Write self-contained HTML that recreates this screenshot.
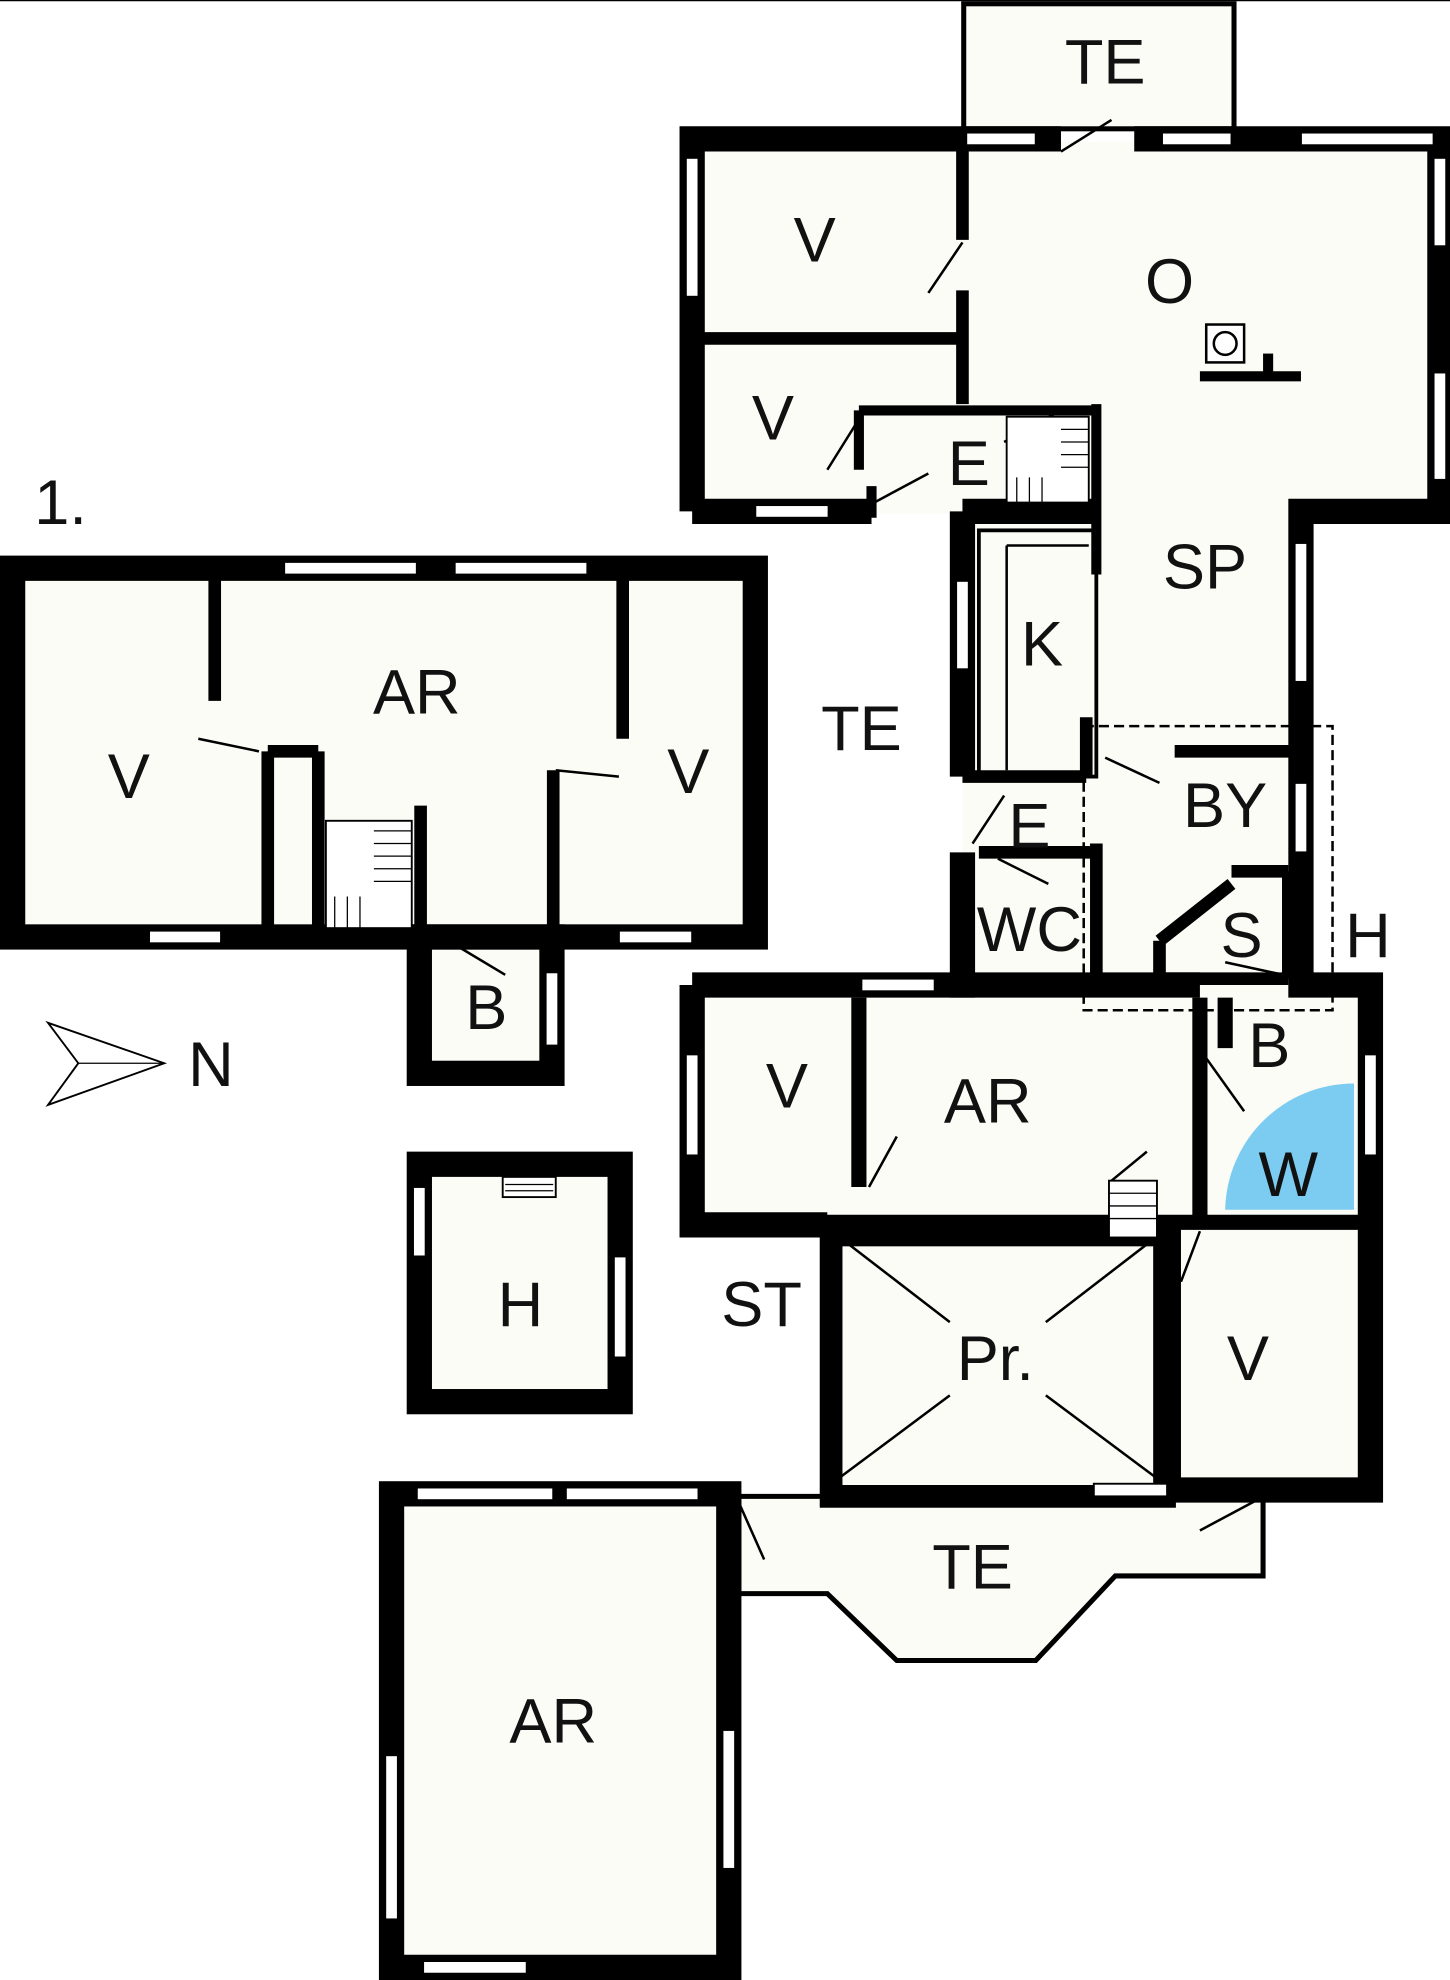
<!DOCTYPE html>
<html><head><meta charset="utf-8"><style>html,body{margin:0;padding:0;background:#fff}svg{display:block}text{font-family:"Liberation Sans",sans-serif;fill:#111}</style></head><body>
<svg width="1450" height="1980" viewBox="0 0 1148 1568" preserveAspectRatio="none" xmlns="http://www.w3.org/2000/svg">
<rect width="1148" height="1568" fill="#fff"/>
<line x1="0" y1="0.5" x2="1148" y2="0.5" stroke="#000" stroke-width="1"/>
<g fill="#fcfcf7">
<rect x="10" y="450" width="588" height="292"/>
<rect x="332" y="742" width="105" height="108"/>
<rect x="550" y="112" width="590" height="295"/>
<rect x="762" y="400" width="268" height="390"/>
<rect x="550" y="790" width="535" height="178"/>
<rect x="658" y="968" width="427" height="212"/>
<rect x="332" y="922" width="159" height="188"/>
<rect x="310" y="1183" width="267" height="375"/>
<rect x="763" y="3" width="214" height="99"/>
<polygon points="585,1185 1000,1185 1000,1248 883,1248 820,1315 710,1315 655,1262 585,1262"/>
</g>
<g fill="none" stroke="#000">
<rect x="10" y="450" width="588" height="292" stroke-width="20"/>
<rect x="332" y="742" width="105" height="108" stroke-width="20"/>
<path d="M170,450V555 M493,450V585 M212,595V735 M252,595V735 M212,595H252 M333,638V742 M438,610V742" stroke-width="10"/>
<rect x="763" y="3" width="214" height="99" stroke-width="4"/>
<path d="M548,405V110H840 M898,110H1140V405H1030V780H1085V1180H930 M548,405H690 M762,405H870" stroke-width="20"/>
<path d="M548,780H762 M548,780V970H655 M690,780H950" stroke-width="20"/>
<path d="M762,405V615 M762,675V790" stroke-width="20"/>
<path d="M762,110V190 M762,230V320 M550,268H760" stroke-width="10"/>
<path d="M680,325H870 M868,320V455 M680,325V372 M690,385V410" stroke-width="8"/>
<rect x="775" y="420" width="93" height="195" stroke-width="3"/>
<path d="M797,432H862 M797,432V610" stroke-width="2"/>
<path d="M762,615H860 M860,568V615 M775,675H868 M868,668V780" stroke-width="10"/>
<path d="M930,595H1030 M975,690H1020 M1020,690V775 M918,745L975,700 M918,745V775H1020" stroke-width="10"/>
<path d="M680,790V940 M950,790V965 M950,968H1085 M548,968H950" stroke-width="12"/>
<rect x="658" y="978" width="264" height="207" stroke-width="18"/>
<path d="M930,968V1185" stroke-width="10"/>
<path d="M665,980L752,1047 M828,1105L915,1170 M915,980L828,1047 M752,1105L665,1170" stroke-width="2"/>
<path d="M970,790V830" stroke-width="12"/>
<polygon points="585,1185 1000,1185 1000,1248 883,1248 820,1315 710,1315 655,1262 585,1262" stroke-width="4"/>
<rect x="332" y="922" width="159" height="188" stroke-width="20"/>
<rect x="310" y="1183" width="267" height="375" stroke-width="20"/>
<rect x="858" y="575" width="197" height="225" stroke-width="2" stroke-dasharray="8,4"/>
<path d="M735,232L762,192 M655,372L680,332 M692,398L735,375 M795,350L840,325 M157,585L205,595 M440,610L490,615 M355,745L400,772 M875,600L918,620 M770,668L795,630 M790,680L830,700 M955,838L985,880 M688,940L710,900 M880,935L908,912 M935,1015L950,975 M585,1190L605,1235 M950,1212L995,1188 M840,120L880,95 M970,762L1030,775" stroke-width="2"/>
</g>
<path d="M970,958H1072V858A102,102 0 0 0 970,958Z" fill="#7ccbf0"/>
<g stroke="#000" stroke-width="1.5" fill="#fff">
<rect x="797" y="330" width="65" height="68"/>
<rect x="258" y="650" width="68" height="85"/>
<rect x="878" y="935" width="38" height="45"/>
<rect x="398" y="932" width="42" height="16"/>
</g>
<g stroke="#000" stroke-width="1">
<path d="M840,340H862M840,350H862M840,360H862M840,370H862M805,378V398M815,378V398M825,378V398"/>
<path d="M296,658H326M296,668H326M296,678H326M296,688H326M296,698H326M265,710V735M275,710V735M285,710V735"/>
<path d="M878,945H916M878,955H916M878,965H916M400,938H438M400,943H438"/>
</g>
<rect x="955" y="257" width="30" height="30" fill="#fff" stroke="#000" stroke-width="2"/>
<circle cx="970" cy="272" r="9" fill="none" stroke="#000" stroke-width="2"/>
<rect x="950" y="294" width="80" height="8" fill="#000"/><rect x="1000" y="280" width="8" height="16" fill="#000"/>
<g fill="#fff" stroke="#000" stroke-width="1.5">
<rect x="225" y="445" width="105" height="10"/><rect x="360" y="445" width="105" height="10"/>
<rect x="118" y="737" width="57" height="10"/><rect x="490" y="737" width="58" height="10"/>
<rect x="432" y="770" width="10" height="58"/>
<rect x="543" y="125" width="10" height="110"/><rect x="598" y="400" width="58" height="10"/>
<rect x="765" y="105" width="55" height="10"/><rect x="920" y="105" width="55" height="10"/><rect x="1030" y="105" width="105" height="10"/>
<rect x="1135" y="125" width="10" height="70"/><rect x="1135" y="295" width="10" height="85"/>
<rect x="1025" y="430" width="10" height="110"/><rect x="1025" y="620" width="10" height="55"/>
<rect x="757" y="460" width="10" height="70"/>
<rect x="682" y="775" width="58" height="10"/><rect x="543" y="835" width="10" height="80"/>
<rect x="1080" y="835" width="10" height="80"/>
<rect x="866" y="1175" width="58" height="10"/>
<rect x="327" y="940" width="10" height="55"/><rect x="486" y="995" width="10" height="80"/>
<rect x="330" y="1178" width="108" height="10"/><rect x="448" y="1178" width="105" height="10"/>
<rect x="305" y="1390" width="10" height="130"/><rect x="572" y="1370" width="10" height="110"/>
<rect x="335" y="1553" width="82" height="10"/>
</g>
<polygon points="38,810 130,842 38,875 62,842" fill="#fff" stroke="#000" stroke-width="1.5"/>
<line x1="62" y1="842" x2="130" y2="842" stroke="#000" stroke-width="1"/>
<g font-size="50" text-anchor="middle">
<text x="875" y="66">TE</text>
<text x="645" y="207">V</text><text x="926" y="240">O</text>
<text x="612" y="348">V</text><text x="767" y="384">E</text>
<text x="954" y="466">SP</text><text x="825" y="527">K</text>
<text x="682" y="594">TE</text><text x="970" y="655">BY</text>
<text x="815" y="671">E</text><text x="815" y="753">WC</text>
<text x="983" y="758">S</text><text x="1083" y="758">H</text>
<text x="1005" y="845">B</text><text x="623" y="877">V</text>
<text x="782" y="889">AR</text><text x="1020" y="947">W</text>
<text x="603" y="1050">ST</text><text x="788" y="1093">Pr.</text>
<text x="988" y="1093">V</text><text x="770" y="1258">TE</text>
<text x="438" y="1380">AR</text><text x="412" y="1050">H</text>
<text x="102" y="632">V</text><text x="330" y="565">AR</text>
<text x="545" y="628">V</text><text x="385" y="815">B</text>
<text x="167" y="860">N</text><text x="48" y="415">1.</text>
</g>
</svg>
</body></html>
